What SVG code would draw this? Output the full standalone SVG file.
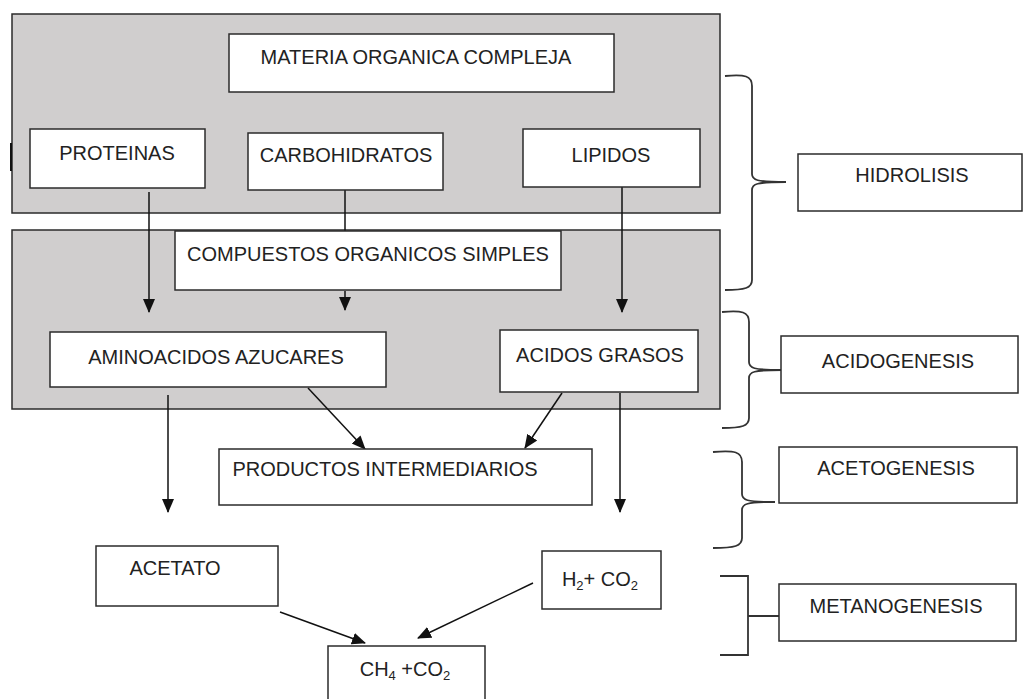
<svg xmlns="http://www.w3.org/2000/svg" width="1023" height="699" viewBox="0 0 1023 699">
<defs>
<style>
.panel{fill:#d0cece;stroke:#2b2b2b;stroke-width:1.5}
.box{fill:#fff;stroke:#2b2b2b;stroke-width:1.5}
.t{font-family:"Liberation Sans",Arial,sans-serif;font-size:20px;fill:#222;text-anchor:middle}
.s{font-size:13px}
.c{stroke:#111;stroke-width:1.5;fill:none}
.br{stroke:#333;stroke-width:1.8;fill:none}
</style>
<marker id="ah" viewBox="0 0 14 14" refX="13" refY="7" markerWidth="14" markerHeight="14" markerUnits="userSpaceOnUse" orient="auto">
<path d="M0,1 L14,7 L0,13 Z" fill="#111"/>
</marker>
</defs>
<rect width="1023" height="699" fill="#fff"/>
<g id="panel-hidrolisis"><rect class="panel" x="12" y="14" width="708" height="199"/></g>
<g id="panel-acidogenesis"><rect class="panel" x="12" y="230" width="708" height="179"/></g>
<line x1="11" y1="143" x2="11" y2="171" stroke="#111" stroke-width="2"/>
<g id="connectors">
<line class="c" x1="149" y1="192" x2="149" y2="312" marker-end="url(#ah)"/>
<line class="c" x1="345" y1="190" x2="345" y2="231"/>
<line class="c" x1="345" y1="291" x2="345" y2="310" marker-end="url(#ah)"/>
<line class="c" x1="622" y1="187" x2="622" y2="312" marker-end="url(#ah)"/>
<line class="c" x1="168" y1="395" x2="168" y2="512" marker-end="url(#ah)"/>
<line class="c" x1="308" y1="388" x2="365" y2="449" marker-end="url(#ah)"/>
<line class="c" x1="562" y1="393" x2="525" y2="448" marker-end="url(#ah)"/>
<line class="c" x1="620" y1="393" x2="620" y2="512" marker-end="url(#ah)"/>
<line class="c" x1="280" y1="612" x2="365" y2="643" marker-end="url(#ah)"/>
<line class="c" x1="533" y1="583" x2="418" y2="638" marker-end="url(#ah)"/>
<path class="br" d="M725,76 C745,74 752,76 752,86 L752,174 C752,180 756,182 786,182 M786,182 C756,182 752,184 752,190 L752,280 C752,288 745,290 725,290"/>
<path class="br" d="M722,312 C742,310 749,312 749,322 L749,362 C749,368 753,370 782,370 M782,370 C753,370 749,372 749,378 L749,418 C749,426 742,428 722,428"/>
<path class="br" d="M713,452 C735,450 742,452 742,462 L742,494 C742,500 746,502 775,502 M775,502 C746,502 742,504 742,510 L742,538 C742,546 735,548 713,548"/>
<path class="br" d="M720,576 H748 V655 H720 M748,616 H782"/>
</g>
<g id="materia"><rect class="box" x="229" y="34" width="385" height="58"/><text class="t" x="416" y="64">MATERIA ORGANICA COMPLEJA</text></g>
<g id="proteinas"><rect class="box" x="30" y="129" width="175" height="59"/><text class="t" x="117" y="160">PROTEINAS</text></g>
<g id="carbohidratos"><rect class="box" x="248" y="133" width="195" height="57"/><text class="t" x="346" y="162">CARBOHIDRATOS</text></g>
<g id="lipidos"><rect class="box" x="523" y="129" width="177" height="58"/><text class="t" x="611" y="162">LIPIDOS</text></g>
<g id="compuestos"><rect class="box" x="175" y="231" width="386" height="59"/><text class="t" x="368" y="261">COMPUESTOS ORGANICOS SIMPLES</text></g>
<g id="aminoacidos"><rect class="box" x="50" y="332" width="336" height="55"/><text class="t" x="216" y="364">AMINOACIDOS AZUCARES</text></g>
<g id="acidos-grasos"><rect class="box" x="500" y="330" width="198" height="62"/><text class="t" x="600" y="362">ACIDOS GRASOS</text></g>
<g id="productos"><rect class="box" x="219" y="449" width="373" height="56"/><text class="t" x="385" y="476">PRODUCTOS INTERMEDIARIOS</text></g>
<g id="acetato"><rect class="box" x="96" y="546" width="182" height="60"/><text class="t" x="175" y="575">ACETATO</text></g>
<g id="h2co2"><rect class="box" x="542" y="551" width="119" height="58"/><text class="t" x="600" y="586">H<tspan class="s" dy="4">2</tspan><tspan dy="-4">+ CO</tspan><tspan class="s" dy="4">2</tspan></text></g>
<g id="ch4co2"><rect class="box" x="328" y="646" width="157" height="60"/><text class="t" x="405" y="676">CH<tspan class="s" dy="4">4</tspan><tspan dy="-4"> +CO</tspan><tspan class="s" dy="4">2</tspan></text></g>
<g id="hidrolisis"><rect class="box" x="798" y="154" width="224" height="57"/><text class="t" x="912" y="182">HIDROLISIS</text></g>
<g id="acidogenesis"><rect class="box" x="781" y="336" width="237" height="57"/><text class="t" x="898" y="368">ACIDOGENESIS</text></g>
<g id="acetogenesis"><rect class="box" x="779" y="447" width="238" height="56"/><text class="t" x="896" y="475">ACETOGENESIS</text></g>
<g id="metanogenesis"><rect class="box" x="779" y="584" width="237" height="57"/><text class="t" x="896" y="613">METANOGENESIS</text></g>
</svg>
